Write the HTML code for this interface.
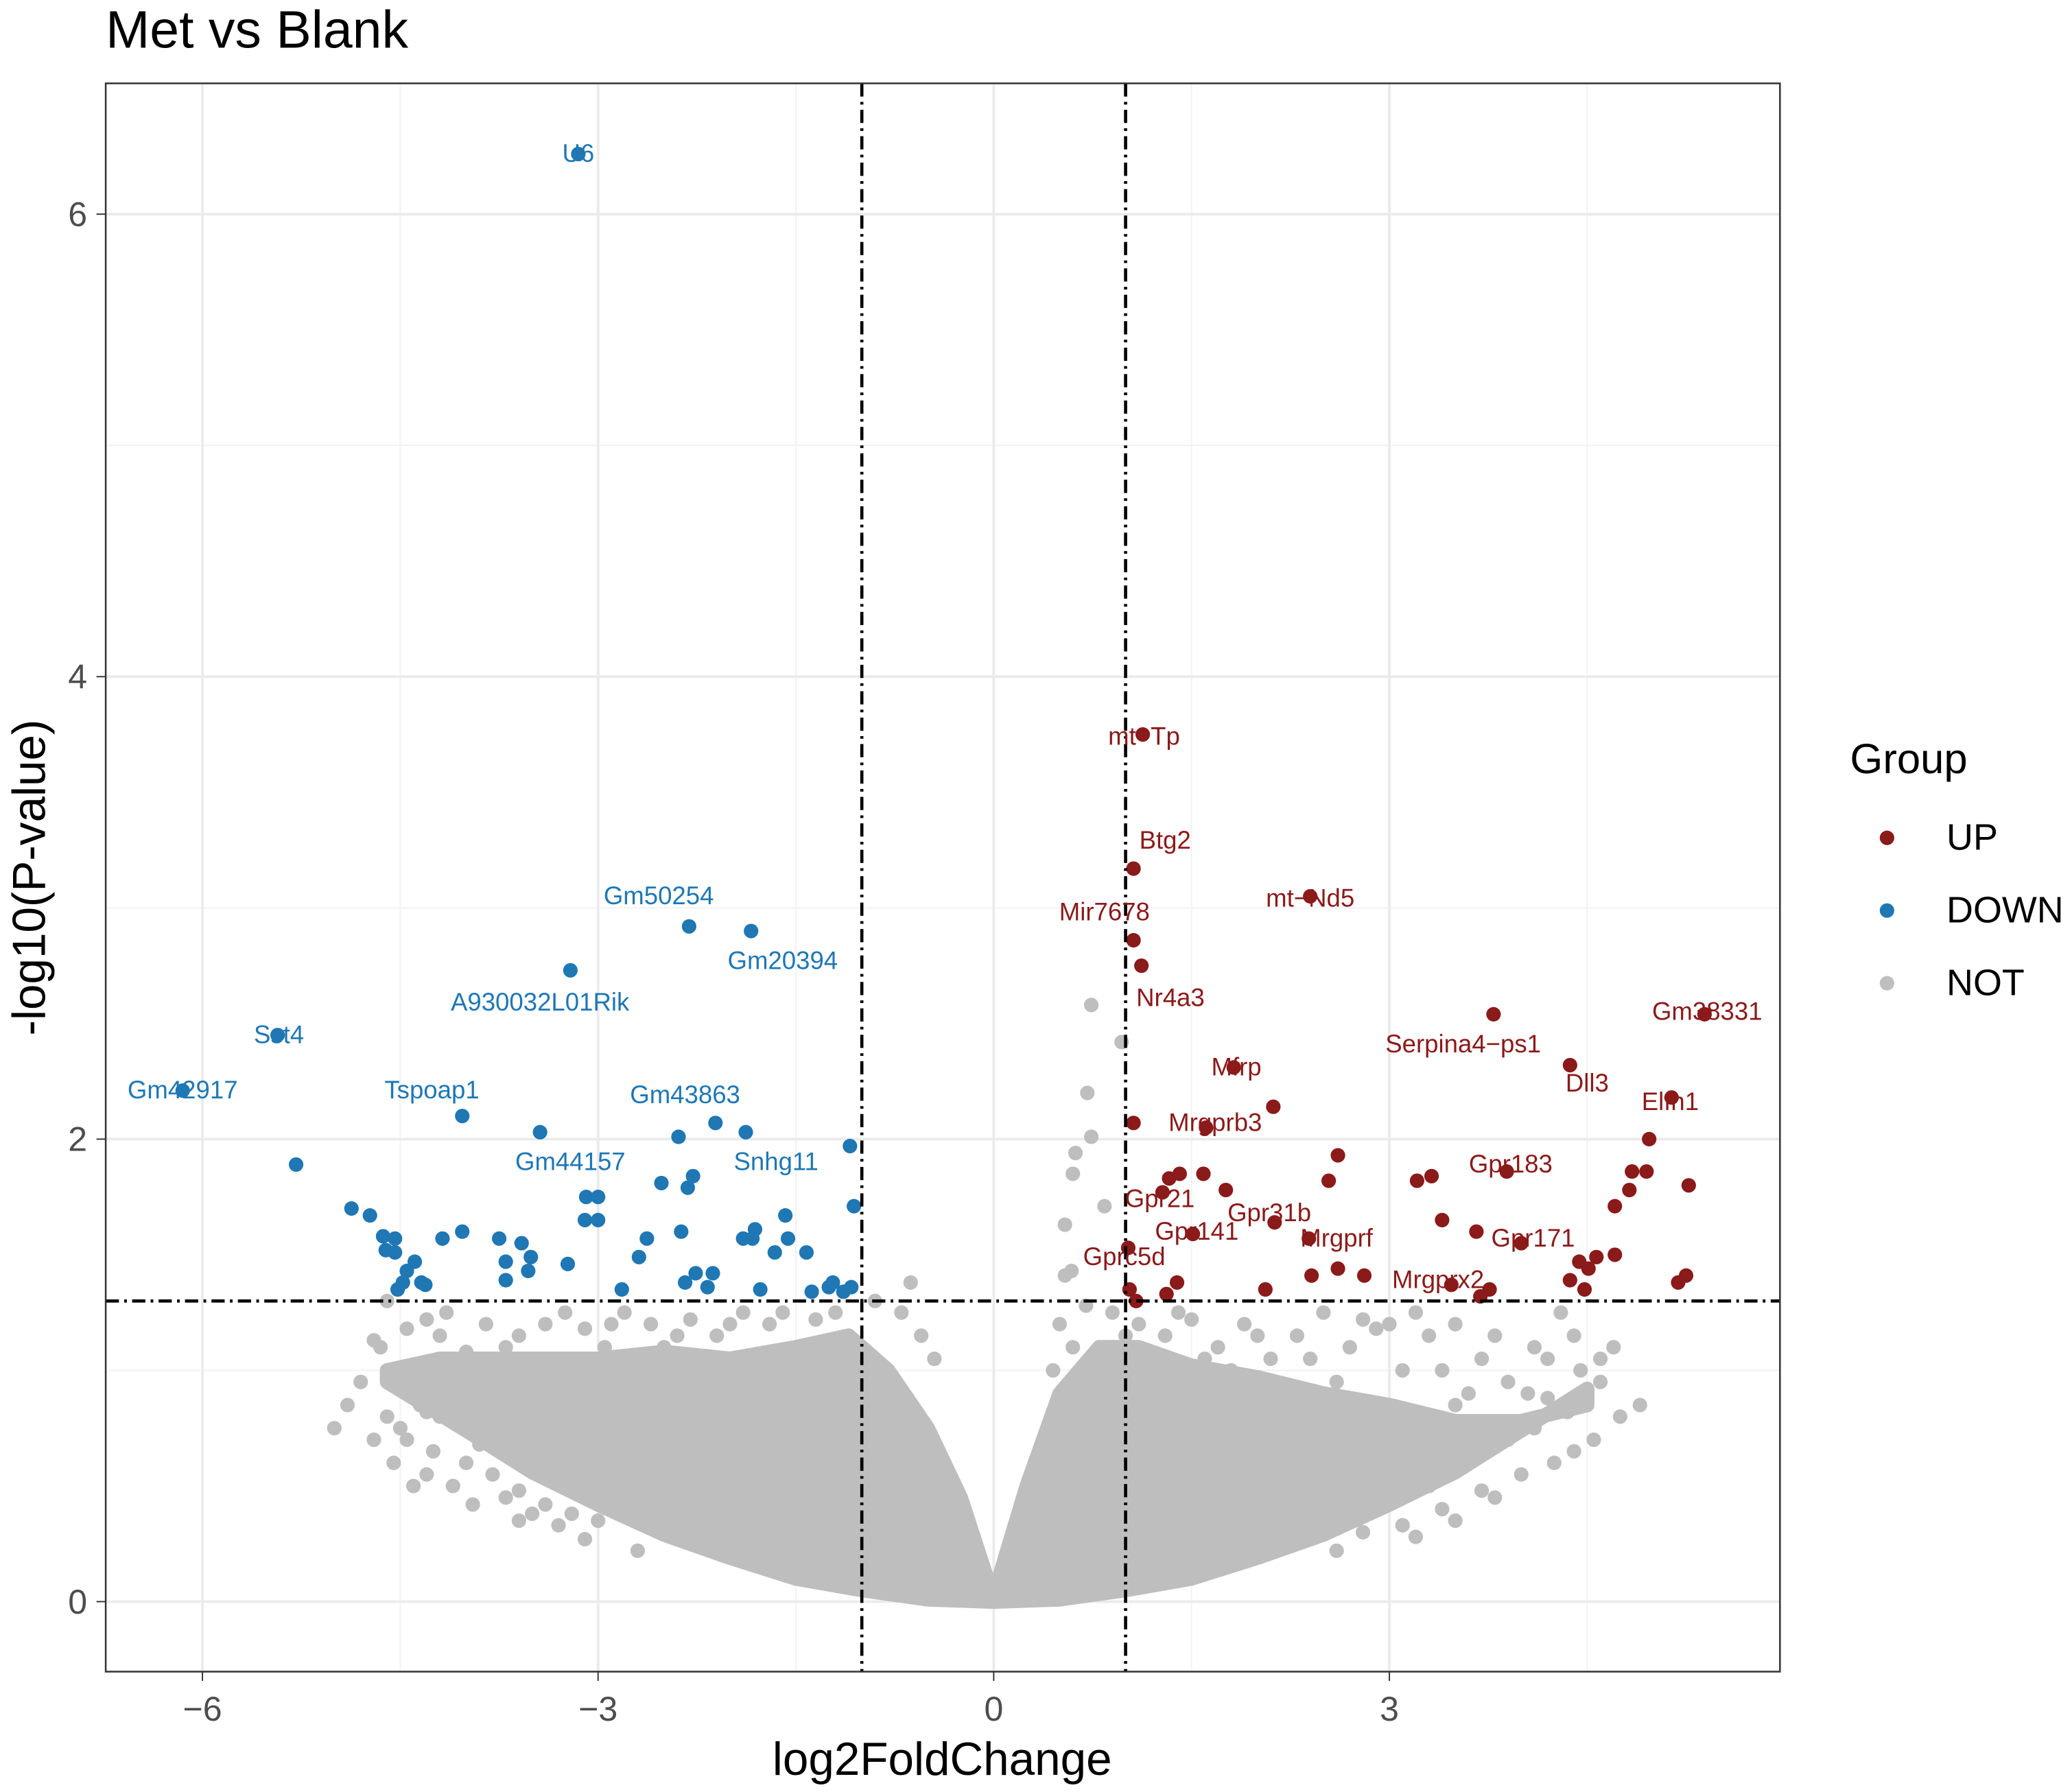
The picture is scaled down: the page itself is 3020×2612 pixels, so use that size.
<!DOCTYPE html>
<html><head><meta charset="utf-8">
<style>
html,body{margin:0;padding:0;background:#fff;}
svg{display:block;font-family:"Liberation Sans",Arial,sans-serif;}
</style></head>
<body>
<svg id="chart" width="3020" height="2612" viewBox="0 0 1568 1356" xmlns="http://www.w3.org/2000/svg">
<text x="80" y="36" font-size="40" fill="#000">Met vs Blank</text>
<g id="grid"></g>
<g id="cloud"></g>
<g id="pts"></g>
<g id="refs"></g>
<g id="labels"></g>
<rect x="80" y="63" width="1267" height="1202" fill="none" stroke="#333" stroke-width="1.3"/>
<g id="axes"></g>
<text x="713" y="1343" font-size="35" text-anchor="middle" fill="#000">log2FoldChange</text>
<text transform="translate(34,664) rotate(-90)" font-size="35" text-anchor="middle" fill="#000">-log10(P-value)</text>
<g>
<text x="1400" y="585" font-size="32" fill="#000">Group</text>
<g><circle cx="1428" cy="634" r="5.5" fill="#8b1a1a"/><text x="1473" y="643" font-size="28">UP</text></g>
<g><circle cx="1428" cy="689" r="5.5" fill="#1f77b4"/><text x="1473" y="698" font-size="28">DOWN</text></g>
<g><circle cx="1428" cy="744" r="5.5" fill="#bebebe"/><text x="1473" y="753" font-size="28">NOT</text></g>
</g>
</svg>
<script>
const xTicks=[-6,-3,0,3];
const yTicks=[0,2,4,6];
const xMinor=[-4.5,-1.5,1.5,4.5];
const yMinor=[1,3,5];
const fcCut=[-1,1];
const pCut=1.3;
const downPts=[[-3.15,6.26],[-2.31,2.92],[-1.84,2.90],[-3.21,2.73],[-5.43,2.45],[-6.15,2.21],[-4.03,2.10],[-5.29,1.89],[-3.44,2.03],[-2.39,2.01],[-2.11,2.07],[-1.88,2.03],[-1.09,1.97],[-1.06,1.71],[-3.09,1.75],[-3.0,1.75],[-3.1,1.65],[-3.0,1.65],[-2.52,1.81],[-2.28,1.84],[-2.32,1.79],[-4.87,1.70],[-4.73,1.67],[-4.63,1.58],[-4.54,1.57],[-4.61,1.52],[-4.54,1.51],[-4.39,1.47],[-4.45,1.43],[-4.48,1.38],[-4.52,1.35],[-4.34,1.38],[-4.31,1.37],[-4.18,1.57],[-4.03,1.60],[-3.75,1.57],[-3.58,1.55],[-3.70,1.47],[-3.51,1.49],[-3.70,1.39],[-3.53,1.43],[-3.23,1.46],[-2.63,1.57],[-2.69,1.49],[-2.37,1.60],[-2.26,1.42],[-2.13,1.42],[-2.17,1.36],[-1.90,1.57],[-1.81,1.61],[-1.83,1.57],[-1.66,1.51],[-1.58,1.67],[-1.56,1.57],[-1.42,1.51],[-1.77,1.35],[-1.38,1.34],[-1.22,1.38],[-1.14,1.34],[-1.08,1.36],[-1.25,1.36],[-2.82,1.35],[-2.34,1.38]];
const upPts=[[1.13,3.75],[1.06,3.17],[2.40,3.05],[1.06,2.86],[1.12,2.75],[3.79,2.54],[5.39,2.54],[4.37,2.32],[1.82,2.31],[2.12,2.14],[5.14,2.18],[1.06,2.07],[1.61,2.05],[4.97,2.0],[2.61,1.93],[1.33,1.83],[1.41,1.85],[1.59,1.85],[1.28,1.77],[2.54,1.82],[1.76,1.78],[3.21,1.82],[3.32,1.84],[3.89,1.86],[4.84,1.86],[4.95,1.86],[4.82,1.78],[4.71,1.71],[5.27,1.80],[1.51,1.59],[2.13,1.64],[3.40,1.65],[3.66,1.60],[4.0,1.55],[2.39,1.57],[1.02,1.53],[2.61,1.44],[2.41,1.41],[2.81,1.41],[1.39,1.38],[1.03,1.35],[1.31,1.33],[1.08,1.30],[2.06,1.35],[3.47,1.37],[3.76,1.35],[3.69,1.32],[4.37,1.39],[4.44,1.47],[4.57,1.49],[4.71,1.50],[4.48,1.35],[5.19,1.38],[5.25,1.41],[4.51,1.44]];
const notPts=[[0.74,2.58],[0.97,2.42],[0.71,2.2],[0.74,2.01],[0.62,1.94],[0.6,1.85],[0.84,1.71],[0.54,1.63],[0.59,1.43],[0.54,1.41],[-0.63,1.38],[-4.6,1.3],[-4.7,1.13],[-4.65,1.1],[-4.3,1.22],[-4.2,1.15],[-4.0,1.08],[-3.9,1.0],[-3.8,0.95],[-3.6,1.15],[-3.4,1.2],[-3.3,1.05],[-3.1,1.18],[-2.95,1.1],[-2.8,1.25],[-2.6,1.2],[-2.5,1.1],[-2.3,1.22],[-2.1,1.15],[-1.9,1.25],[-1.7,1.2],[-1.5,1.1],[-1.35,1.22],[-1.2,1.25],[-1.1,1.15],[-4.35,0.85],[-4.3,0.82],[-4.2,0.8],[-4.1,0.78],[-4.25,0.65],[-4.0,0.6],[-3.8,0.55],[-3.6,0.48],[-3.4,0.42],[-3.2,0.38],[-3.0,0.35],[-4.3,0.55],[-4.1,0.5],[-3.7,0.45],[-3.5,0.38],[-3.3,0.33],[-4.5,0.75],[-4.6,0.8],[-4.9,0.85],[-4.35,0.9],[-5.0,0.75],[-4.8,0.95],[-3.9,0.68],[-3.5,0.58],[-4.0,0.9],[0.9,1.25],[1.1,1.2],[1.3,1.15],[1.5,1.22],[1.7,1.1],[1.9,1.2],[2.1,1.05],[2.3,1.15],[2.5,1.25],[2.7,1.1],[2.9,1.18],[3.1,1.0],[3.3,1.15],[3.5,1.2],[3.7,1.05],[3.9,0.95],[4.1,1.1],[4.3,1.25],[4.45,1.0],[4.6,1.05],[4.9,0.85],[4.35,0.82],[4.1,0.75],[3.9,0.7],[3.6,0.6],[3.3,0.5],[3.0,0.45],[4.4,0.65],[4.0,0.55],[3.7,0.48],[3.4,0.4],[3.1,0.33],[2.8,0.3],[4.2,0.88],[4.5,0.9],[2.6,0.95],[2.8,1.22],[3.2,1.25],[-0.9,1.3],[-0.7,1.25],[0.7,1.28],[0.5,1.2],[1.2,1.05],[1.8,1.0],[2.2,0.92],[3.5,0.85],[4.7,1.1],[-1.8,1.05],[-2.7,1.0],[-3.2,0.9],[-1.4,1.05],[-4.45,1.18],[-4.15,1.25],[-3.85,1.2],[-3.7,1.1],[-3.25,1.25],[-2.9,1.2],[-2.4,1.15],[-2.0,1.2],[-1.6,1.25],[-1.25,1.1],[-4.55,0.6],[-4.4,0.5],[-3.95,0.42],[-3.6,0.35],[-3.1,0.27],[-2.7,0.22],[-4.7,0.7],[-4.45,0.7],[-3.85,0.8],[1.0,1.15],[1.4,1.25],[1.6,1.05],[2.0,1.15],[2.4,1.05],[3.0,1.2],[3.4,1.0],[3.8,1.15],[4.2,1.05],[4.4,1.15],[4.6,0.95],[4.75,0.8],[4.55,0.7],[4.25,0.6],[3.8,0.45],[3.5,0.35],[3.2,0.28],[2.6,0.22],[4.05,0.9],[3.6,0.9],[3.0,0.8],[2.4,0.85],[-0.55,1.15],[-0.45,1.05],[0.6,1.1],[0.45,1.0]];
const labText=["U6","Gm50254","Gm20394","A930032L01Rik","Sst4","Gm42917","Tspoap1","Gm43863","Gm44157","Snhg11","mt-Tp","Btg2","Mir7678","mt-Nd5","Nr4a3","Gm38331","Serpina4-ps1","Mfrp","Dll3","Elfn1","Mrgprb3","Gpr183","Gpr21","Gpr31b","Gpr141","Mrgprf","Gpr171","Gprc5d","Mrgprx2"];
const labX=[-3.15,-2.54,-1.60,-3.44,-5.42,-6.15,-4.26,-2.34,-3.21,-1.65,1.14,1.30,0.84,2.40,1.34,5.41,3.56,1.84,4.50,5.13,1.68,3.92,1.26,2.09,1.54,2.60,4.09,0.99,3.37];
const labY=[6.26,3.05,2.77,2.59,2.45,2.21,2.21,2.19,1.90,1.90,3.74,3.29,2.98,3.04,2.61,2.55,2.41,2.31,2.24,2.16,2.07,1.89,1.74,1.68,1.60,1.57,1.57,1.49,1.39];
const labGroup=["D","D","D","D","D","D","D","D","D","D","U","U","U","U","U","U","U","U","U","U","U","U","U","U","U","U","U","U","U"];
const coreUpperX=[-4.6,-4.2,-3.5,-3.0,-2.5,-2.0,-1.5,-1.1,-0.8,-0.5,-0.25,-0.05,0,0.05,0.25,0.5,0.8,1.1,1.5,2.0,2.5,3.0,3.5,4.0,4.5];
const coreUpperY=[1.0,1.05,1.05,1.05,1.08,1.05,1.1,1.15,1.0,0.75,0.45,0.1,0,0.12,0.5,0.9,1.1,1.1,1.02,0.97,0.9,0.85,0.78,0.78,0.85];
const coreLowerX=[4.5,4.0,3.5,3.0,2.5,2.0,1.5,1.0,0.5,0,-0.5,-1.0,-1.5,-2.0,-2.5,-3.0,-3.5,-4.0,-4.6];
const coreLowerY=[0.92,0.74,0.56,0.42,0.29,0.19,0.1,0.05,0.01,0,0.01,0.05,0.1,0.19,0.29,0.42,0.56,0.74,0.95];

const NS="http://www.w3.org/2000/svg";
const sx=v=>752+v*99.8;
const sy=v=>1212-v*175;
function mk(tag,parent){const e=document.createElementNS(NS,tag);document.getElementById(parent).appendChild(e);return e;}
xMinor.forEach(v=>{const l=mk('line','grid');l.setAttribute('x1',sx(v));l.setAttribute('x2',sx(v));l.setAttribute('y1',63);l.setAttribute('y2',1265);l.setAttribute('stroke','#f2f2f2');l.setAttribute('stroke-width','1');});
yMinor.forEach(v=>{const l=mk('line','grid');l.setAttribute('x1',80);l.setAttribute('x2',1347);l.setAttribute('y1',sy(v));l.setAttribute('y2',sy(v));l.setAttribute('stroke','#f2f2f2');l.setAttribute('stroke-width','1');});
xTicks.forEach(v=>{const l=mk('line','grid');l.setAttribute('x1',sx(v));l.setAttribute('x2',sx(v));l.setAttribute('y1',63);l.setAttribute('y2',1265);l.setAttribute('stroke','#ebebeb');l.setAttribute('stroke-width','2');
 const t=mk('line','axes');t.setAttribute('x1',sx(v));t.setAttribute('x2',sx(v));t.setAttribute('y1',1265);t.setAttribute('y2',1272);t.setAttribute('stroke','#333');
 const tx=mk('text','axes');tx.setAttribute('x',sx(v));tx.setAttribute('y',1302);tx.setAttribute('font-size','26');tx.setAttribute('text-anchor','middle');tx.setAttribute('fill','#4d4d4d');tx.textContent=(v<0?'\u2212'+(-v):v);});
yTicks.forEach(v=>{const l=mk('line','grid');l.setAttribute('x1',80);l.setAttribute('x2',1347);l.setAttribute('y1',sy(v));l.setAttribute('y2',sy(v));l.setAttribute('stroke','#ebebeb');l.setAttribute('stroke-width','2');
 const t=mk('line','axes');t.setAttribute('x1',73);t.setAttribute('x2',80);t.setAttribute('y1',sy(v));t.setAttribute('y2',sy(v));t.setAttribute('stroke','#333');
 const tx=mk('text','axes');tx.setAttribute('x',66);tx.setAttribute('y',sy(v)+9);tx.setAttribute('font-size','26');tx.setAttribute('text-anchor','end');tx.setAttribute('fill','#4d4d4d');tx.textContent=v;});
let d='M'+coreUpperX.map((x,i)=>sx(x)+','+sy(coreUpperY[i])).join(' L')+' L'+coreLowerX.map((x,i)=>sx(x)+','+sy(coreLowerY[i])).join(' L')+' Z';
const cp=mk('path','cloud');


cp.setAttribute('d',d);cp.setAttribute('fill','#bebebe');cp.setAttribute('stroke','#bebebe');cp.setAttribute('stroke-width','11');cp.setAttribute('stroke-linejoin','round');
function dots(arr,color,name){arr.forEach(p=>{const c=mk('circle','pts');
 
 
 c.setAttribute('cx',sx(p[0]));c.setAttribute('cy',sy(p[1]));c.setAttribute('r',5.5);c.setAttribute('fill',color);});}
dots(notPts,'#bebebe','point-not');
dots(downPts,'#1f77b4','point-down');
dots(upPts,'#8b1a1a','point-up');
fcCut.forEach(v=>{const l=mk('line','refs');l.setAttribute('x1',sx(v));l.setAttribute('x2',sx(v));l.setAttribute('y1',63);l.setAttribute('y2',1265);l.setAttribute('stroke','#000');l.setAttribute('stroke-width','2.4');l.setAttribute('stroke-dasharray','10,4,2,4');});
const hl=mk('line','refs');


hl.setAttribute('x1',80);hl.setAttribute('x2',1347);hl.setAttribute('y1',sy(pCut));hl.setAttribute('y2',sy(pCut));hl.setAttribute('stroke','#000');hl.setAttribute('stroke-width','2.4');hl.setAttribute('stroke-dasharray','10,4,2,4');
labText.forEach((s,i)=>{const t=mk('text','labels');
 
 
 t.setAttribute('x',sx(labX[i]));t.setAttribute('y',sy(labY[i])+6);t.setAttribute('font-size','19');t.setAttribute('text-anchor','middle');
 t.setAttribute('fill',labGroup[i]==='D'?'#1f77b4':'#8b1a1a');t.textContent=s.replace('-','\u2212');});
</script>
</body></html>
